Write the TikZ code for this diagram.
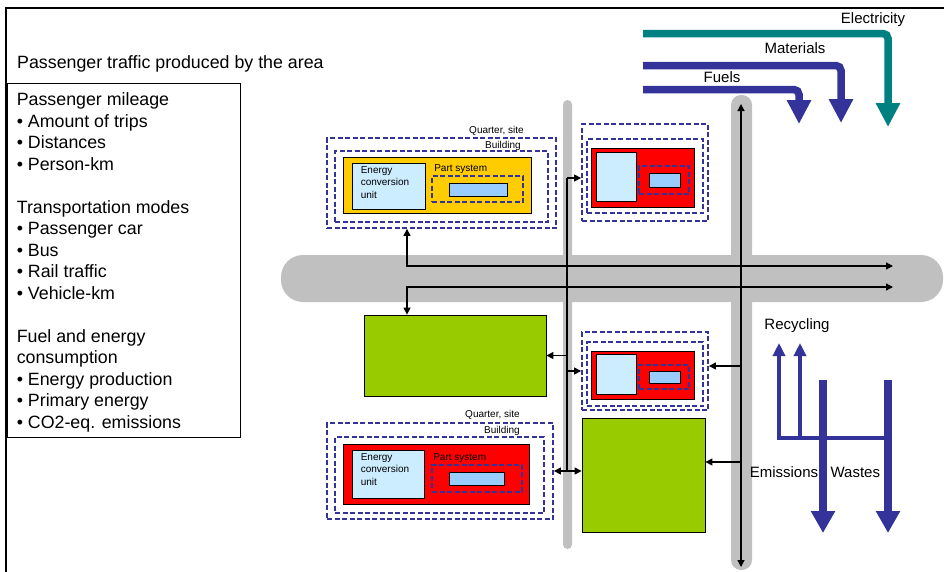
\documentclass[tikz,border=0pt]{standalone}
\usepackage{fontspec}
\setmainfont{Liberation Sans}
\usetikzlibrary{arrows.meta,fit,positioning}

\definecolor{roadgray}{HTML}{C0C0C0}
\definecolor{flowblue}{HTML}{333399}
\definecolor{flowteal}{HTML}{008080}
\definecolor{housered}{HTML}{FF0000}
\definecolor{houseorange}{HTML}{FFCC00}
\definecolor{unitblue}{HTML}{CCECFF}
\definecolor{subblue}{HTML}{99CCFF}
\definecolor{blockgreen}{HTML}{99CC00}

\tikzset{
  dashbox/.style={draw=flowblue, dash pattern=on 5pt off 2.5pt, line width=1.8pt, inner sep=0pt},
  solidbox/.style={draw=black, line width=0.8pt, inner sep=0pt},
  link/.style={line width=1.2pt, -{Triangle[length=7pt,width=7pt]}},
  twolink/.style={line width=1.2pt, {Triangle[length=7pt,width=7pt]}-{Triangle[length=7pt,width=7pt]}},
  smalltext/.style={font=\fontsize{10}{12.5}\selectfont, inner sep=0pt},
  midtext/.style={font=\fontsize{15}{18}\selectfont, inner sep=0pt},
  bigtext/.style={font=\fontsize{17.8}{21.5}\selectfont, inner sep=0pt},
}

\begin{document}
\begin{tikzpicture}[x=1pt, y=-1pt]
    \useasboundingbox (0,0) rectangle (944,571);
    \clip (0,0) rectangle (944,571);
    % Frame
    \draw[line width=2.5pt] (6,8) rectangle (990,600);

    % Passenger traffic box
    \node[bigtext, anchor=base west] (title) at (17,68) {Passenger traffic produced by the area};
    \node[draw, line width=0.8pt, inner sep=0pt, fit={(7,83) (240,437)}] (infobox) {};
    \node[bigtext, anchor=north west, align=left] (infotext) at ([shift={(10pt,-10pt)}]infobox.north west)
        {Passenger mileage\\ • Amount of trips\\ • Distances\\ • Person-km\\[21.5pt]
         Transportation modes\\ • Passenger car\\ • Bus\\ • Rail traffic\\ • Vehicle-km\\[21.5pt]
         Fuel and energy\\ consumption\\ • Energy production\\ • Primary energy\\ • CO2-eq. emissions};

    % Roads
    \fill[roadgray, rounded corners=22pt] (281,255) rectangle (943,302);
    \fill[roadgray, rounded corners=4.5pt] (563,100) rectangle (572,549);
    \fill[roadgray, rounded corners=10pt] (731,95) rectangle (752,570);

    % Quarter, site (upper left)
    \node[dashbox, fit={(327,138) (556,228)}] (q1out) {};
    \node[dashbox, fit={(335,151) (548,222)}] (q1bld) {};
    \node[solidbox, fill=houseorange, fit={(343,157) (531,213)}] (q1house) {};
    \node[solidbox, fill=unitblue, fit={(352,163) (425,209)}] (q1unit) {};
    \node[dashbox, fit={(432,176) (523,202)}] (q1part) {};
    \node[solidbox, fill=subblue, fit={(449,183) (507,196)}] (q1sub) {};
    \node[smalltext, anchor=base east] (q1lbl) at ([shift={(-33pt,4pt)}]q1out.north east) {Quarter, site};
    \node[smalltext, anchor=base east] (q1blbl) at ([shift={(-28pt,2pt)}]q1bld.north east) {Building};
    \node[smalltext, anchor=north west, align=left] (q1utxt) at ([shift={(9pt,-3.5pt)}]q1unit.north west)
        {Energy\\ conversion\\ unit};
    \node[smalltext, anchor=base west] (q1ptxt) at ([shift={(3pt,4pt)}]q1part.north west) {Part system};

    % Quarter, site (lower left)
    \node[dashbox, fit={(327,423) (553,519)}] (q4out) {};
    \node[dashbox, fit={(335,437) (544,513)}] (q4bld) {};
    \node[solidbox, fill=housered, fit={(343,444) (529,504)}] (q4house) {};
    \node[solidbox, fill=unitblue, fit={(352,450) (424,498)}] (q4unit) {};
    \node[dashbox, fit={(432,465) (522,492)}] (q4part) {};
    \node[solidbox, fill=subblue, fit={(449,472) (504,485)}] (q4sub) {};
    \node[smalltext, anchor=base east] (q4lbl) at ([shift={(-34pt,5pt)}]q4out.north east) {Quarter, site};
    \node[smalltext, anchor=base east] (q4blbl) at ([shift={(-25pt,3pt)}]q4bld.north east) {Building};
    \node[smalltext, anchor=north west, align=left] (q4utxt) at ([shift={(9pt,-3.5pt)}]q4unit.north west)
        {Energy\\ conversion\\ unit};
    \node[smalltext, anchor=base west] (q4ptxt) at ([shift={(2pt,4pt)}]q4part.north west) {Part system};

    % Small quarters (right of the thin road)
    \node[dashbox, fit={(582,124) (708,221)}] (q2out) {};
    \node[dashbox, fit={(587,139) (703,213)}] (q2bld) {};
    \node[solidbox, fill=housered, fit={(591,148) (694,207)}] (q2house) {};
    \node[solidbox, fill=unitblue, fit={(596,152) (636,201)}] (q2unit) {};
    \node[dashbox, fit={(639,166) (689,194)}] (q2part) {};
    \node[solidbox, fill=subblue, fit={(649,173) (680,187)}] (q2sub) {};

    \node[dashbox, fit={(582,332) (708,410)}] (q3out) {};
    \node[dashbox, fit={(587,342) (703,406)}] (q3bld) {};
    \node[solidbox, fill=housered, fit={(591,351) (694,399)}] (q3house) {};
    \node[solidbox, fill=unitblue, fit={(596,354) (636,394)}] (q3unit) {};
    \node[dashbox, fit={(639,365) (689,389)}] (q3part) {};
    \node[solidbox, fill=subblue, fit={(649,371) (680,383)}] (q3sub) {};

    % Green blocks
    \node[solidbox, fill=blockgreen, fit={(364,315) (546,396)}] (g1) {};
    \node[solidbox, fill=blockgreen, fit={(582,418) (705,532)}] (g2) {};

    % Traffic along the main road
    \coordinate (roadA) at (893,266);
    \coordinate (roadB) at (893,287);
    \coordinate (turn) at (407,266);
    \draw[twolink] (q1out.south -| turn) |- (roadA);
    \draw[twolink] (roadB) -| (turn |- g1.north);

    % Traffic along the thin road
    \coordinate (thinA) at (567,178);
    \draw[line width=1.2pt] (thinA) -- (thinA |- q4out.east);
    \draw[link] (thinA) -- (thinA -| q2out.west);
    \draw[link] (g1.east -| thinA) -- (g1.east);
    \draw[link] (q3out.west -| thinA) -- (q3out.west);
    \draw[twolink] (q4out.east) -- (q4out.east -| g2.west);

    % Traffic along the thick road
    \coordinate (thickA) at (741,104);
    \coordinate (thickB) at (741,567);
    \draw[twolink] (thickA) -- (thickB);
    \coordinate (q3in) at ([yshift=5pt]q3out.east);
    \coordinate (g2in) at ([yshift=13pt]g2.east);
    \draw[link] (q3in -| thickA) -- (q3in);
    \draw[link] (g2in -| thickA) -- (g2in);

    % Incoming flows
    \foreach \yy/\xx/\tip/\cc/\lbl/\lx/\ly in {33.5/888/127/flowteal/Electricity/873/20,
                                             65.5/841/123/flowblue/Materials/795/48,
                                             89.5/799/124/flowblue/Fuels/722/77} {
        \draw[\cc, line width=7.5pt, rounded corners=5pt, -{Triangle[length=24pt,width=23pt]}]
            (643,\yy) -- (\xx,\yy) -- (\xx,\tip);
        \node[midtext] at (\lx,\ly) {\lbl};
    }

    % Outgoing flows
    \draw[flowblue, line width=4.5pt, {Triangle[length=13pt,width=12pt]}-] (779,343) -- (779,438) -- (888,438);
    \draw[flowblue, line width=4.5pt, {Triangle[length=13pt,width=12pt]}-] (800,343) -- (800,438);
    \foreach \x in {823,888} {
        \draw[flowblue, line width=8pt, -{Triangle[length=22pt,width=23pt]}] (\x,380) -- (\x,533);
    }
    \node[midtext] (recycle) at (797,326) {Recycling};
    \node[midtext] (emis) at (784,472) {Emissions};
    \node[midtext, right=12pt of emis] (waste) {Wastes};
\end{tikzpicture}
\end{document}
